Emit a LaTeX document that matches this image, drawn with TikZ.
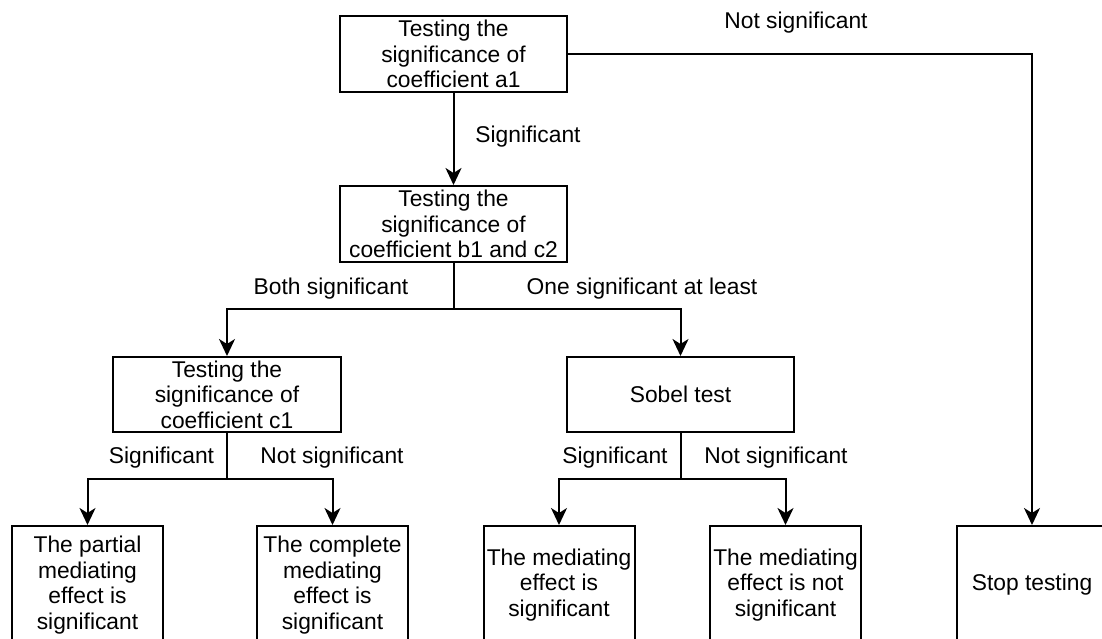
\documentclass[tikz,border=0pt]{standalone}
\usepackage{fontspec}
\setmainfont{Liberation Sans}
\usetikzlibrary{arrows.meta}
\begin{document}
\begin{tikzpicture}[x=1pt,y=-1pt,
  every node/.style={font=\fontsize{22.8}{25.5}\selectfont},
  box/.style={draw,line width=2pt,inner sep=0pt,align=center,minimum width=227pt,minimum height=76pt},
  leaf/.style={draw,line width=2pt,inner sep=0pt,align=center,minimum width=151pt,minimum height=118pt},
  lbl/.style={inner sep=0pt,anchor=center},
  conn/.style={line width=2pt},
  arr/.style={line width=2pt,-{Stealth[length=17pt,width=16pt,inset=5pt]}}]
\useasboundingbox (0,0) rectangle (1102,639);
\clip (0,0) rectangle (1102,639);
% boxes
\node[box] (A) at (453.5,54) {Testing the\\significance of\\coefficient a1};
\node[box] (B) at (453.5,224) {Testing the\\significance of\\coefficient b1 and c2};
\node[box,minimum width=228pt,minimum height=75pt] (C1) at (227,394.5) {Testing the\\significance of\\coefficient c1};
\node[box,minimum height=75pt] (S) at (680.5,394.5) {Sobel test};
\node[leaf] (P) at (87.5,585) {The partial\\mediating\\effect is\\significant};
\node[leaf] (Cm) at (332.5,585) {The complete\\mediating\\effect is\\significant};
\node[leaf] (Ms) at (559,585) {The mediating\\effect is\\significant};
\node[leaf] (Mn) at (785.5,585) {The mediating\\effect is not\\significant};
\node[leaf] (St) at (1032,585) {Stop testing};
% junctions
\coordinate (jB) at (453.5,309);
\coordinate (jC) at (227,479);
\coordinate (jS) at (680.5,479);
% connectors
\draw[arr] (A.south) -- (B.north);
\draw[arr] (A.east) -| (St.north);
\draw[conn] (B.south) -- (jB);
\draw[arr] (jB) -| (C1.north);
\draw[arr] (jB) -| (S.north);
\draw[conn] (C1.south) -- (jC);
\draw[arr] (jC) -| (P.north);
\draw[arr] (jC) -| (Cm.north);
\draw[conn] (S.south) -- (jS);
\draw[arr] (jS) -| (Ms.north);
\draw[arr] (jS) -| (Mn.north);
% labels
\node[lbl] (lA) at (528,137) {Significant};
\node[lbl] (lAn) at (796,23) {Not significant};
\node[lbl] (lB1) at (331,289) {Both significant};
\node[lbl] (lB2) at (642,289) {One significant at least};
\node[lbl] (lC1) at (161.5,458) {Significant};
\node[lbl] (lC2) at (332,458) {Not significant};
\node[lbl] (lS1) at (615,458) {Significant};
\node[lbl] (lS2) at (776,458) {Not significant};
\end{tikzpicture}
\end{document}
